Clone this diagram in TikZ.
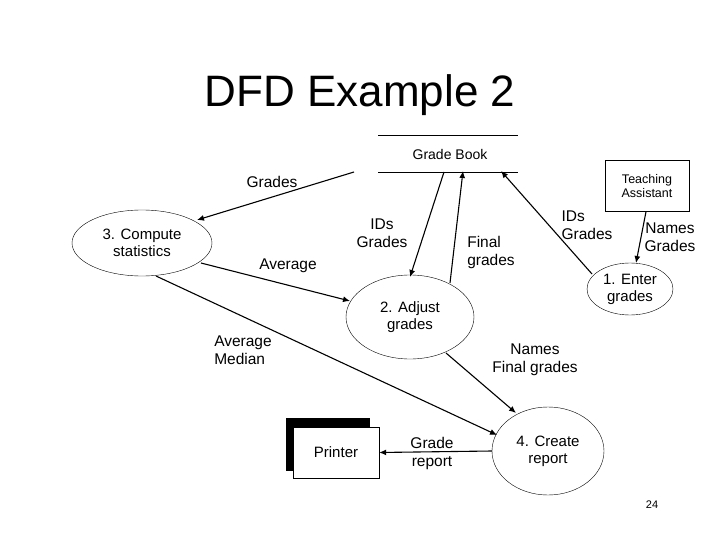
\documentclass[tikz,border=0pt]{standalone}
\usepackage{fontspec}
\setmainfont{Liberation Sans}
\usetikzlibrary{shapes.geometric,arrows.meta}
\begin{document}
\begin{tikzpicture}[x=1pt,y=-1pt,
  proc/.style={draw,ellipse,inner sep=0pt,align=center,font=\fontsize{15}{17}\selectfont},
  lab/.style={align=center,font=\fontsize{15.5}{18}\selectfont},
  flow/.style={draw,line width=1.1pt,-{Latex[length=7pt,width=6pt]}}]
\useasboundingbox (0,0) rectangle (720,540);
\node[font=\fontsize{44}{48}\selectfont] (title) at (360,95) {DFD Example 2};
\node[font=\fontsize{14}{16}\selectfont] (gb) at (450,154) {Grade Book};
\draw (378,135) -- (518,135);
\draw (378,172) -- (518,172);
\node[draw,minimum width=84pt,minimum height=51pt,align=center,font=\fontsize{12.5}{14.5}\selectfont] (ta) at (647,186) {Teaching\\Assistant};
\node[proc,minimum width=140pt,minimum height=66pt] (p3) at (142,243) {3. Compute\\statistics};
\node[proc,minimum width=128pt,minimum height=84pt] (p2) at (410,317) {2. Adjust\\grades};
\node[proc,minimum width=86pt,minimum height=52pt] (p1) at (630,289) {1. Enter\\grades};
\node[proc,minimum width=112pt,minimum height=88pt] (p4) at (548,451) {4. Create\\report};
\fill (286,418) rectangle (370,471);
\node[draw,fill=white,minimum width=86pt,minimum height=51pt,font=\fontsize{15}{17}\selectfont] (pr) at (336,452.5) {Printer};
\coordinate (g1) at (354,172);
\coordinate (g2) at (444,172);
\coordinate (g3) at (463,171);
\coordinate (g4) at (501,171);
\draw[flow] (g1) -- (197,220);
\draw[flow] (g2) -- (410,277);
\draw[flow] (450,283) -- (g3);
\draw[flow] (592,274) -- (g4);
\draw[flow] (ta.south) ++(-1,0) -- (636,263);
\draw[flow] (201,263) -- (350,301);
\draw[flow] (156,276) -- (497,435);
\draw[flow] (446,353) -- (516,413);
\draw[flow] (p4.west) -- (pr.east);
\node[lab] (l1) at (272,182) {Grades};
\node[lab] (l2) at (382,233) {IDs\\Grades};
\node[lab,align=left] (l3) at (491,252) {Final\\grades};
\node[lab,align=left] (l4) at (587,225) {IDs\\Grades};
\node[lab] (l5) at (670,237) {Names\\Grades};
\node[lab] (l6) at (288,266) {Average};
\node[lab,align=left] (l7) at (243,350) {Average\\Median};
\node[lab] (l8) at (535,360) {Names\\Final grades};
\node[lab] (l9) at (432,453) {Grade\\report};
\node[font=\fontsize{11}{13}\selectfont] (pg) at (652,505) {24};
\end{tikzpicture}
\end{document}
